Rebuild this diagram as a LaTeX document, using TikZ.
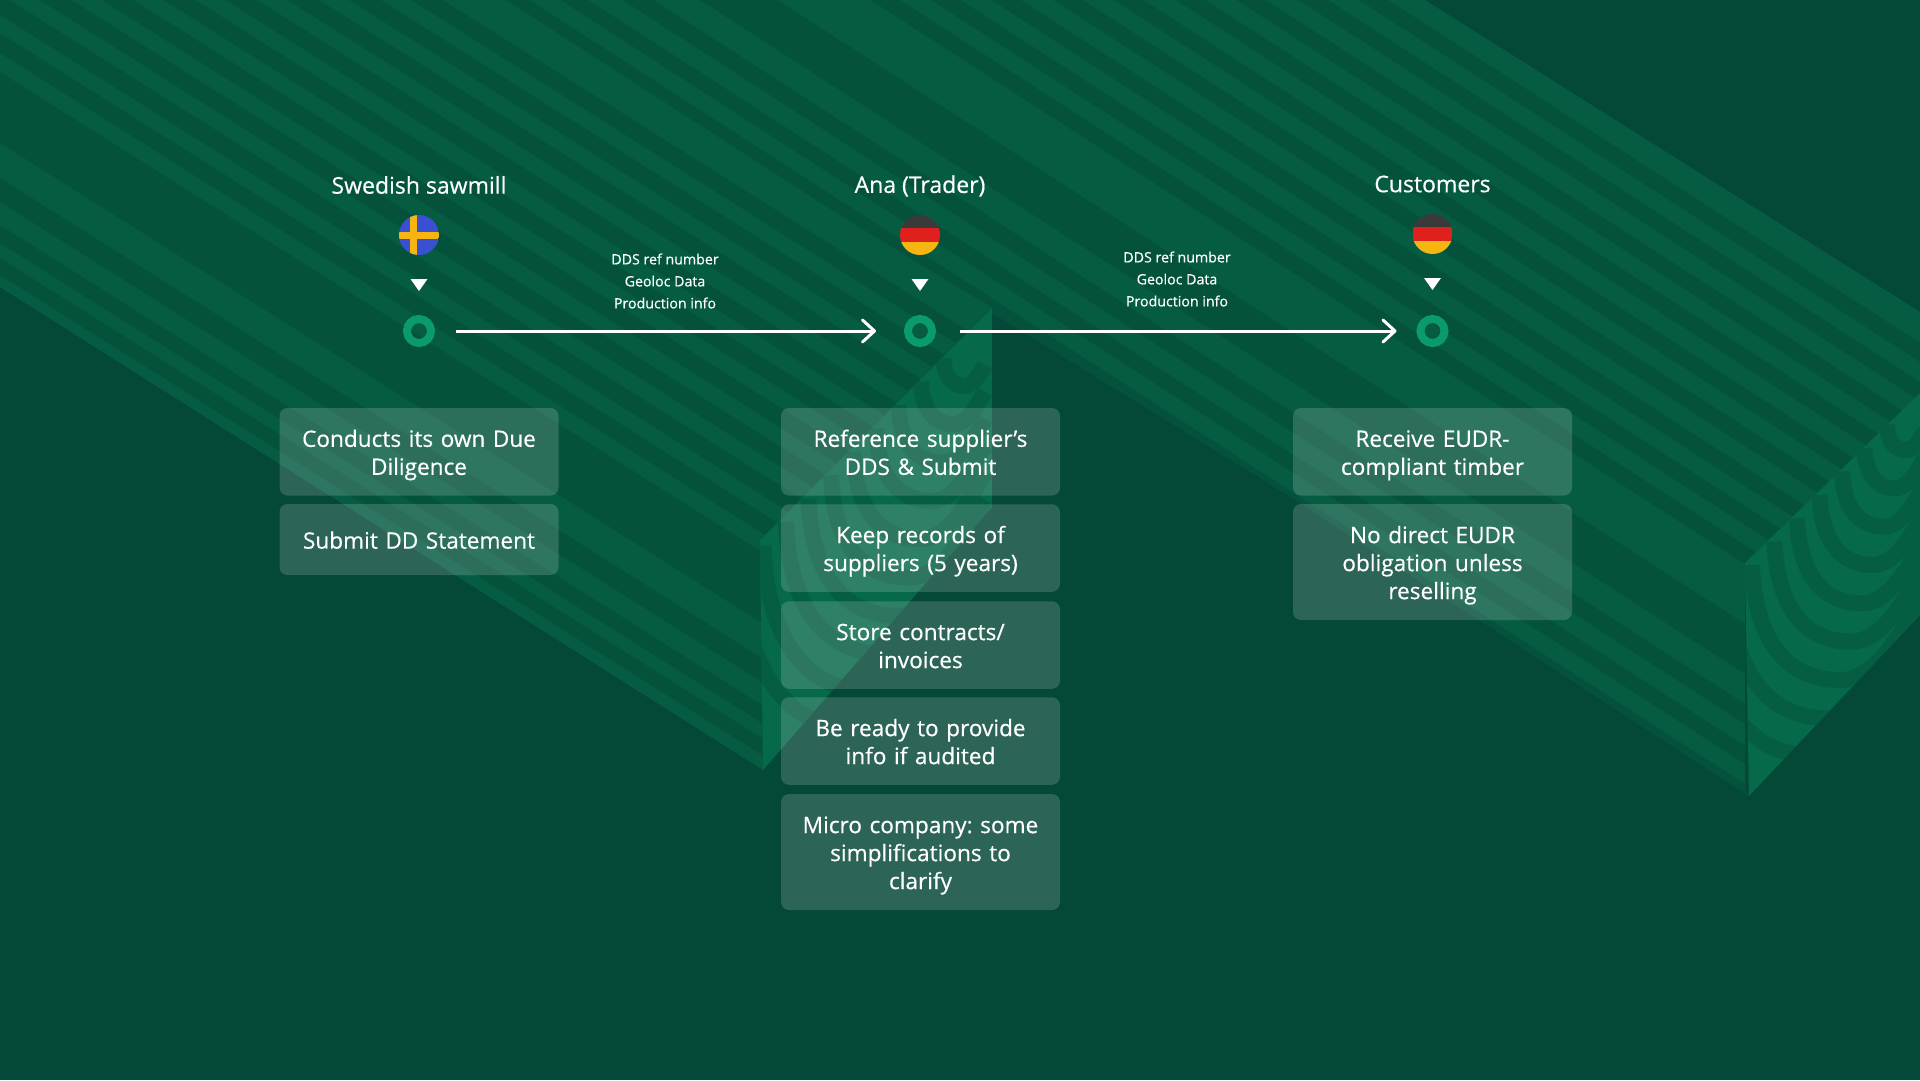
\documentclass[tikz,border=0pt]{standalone}
\usepackage{fontspec}
\setmainfont{Open Sans}[FakeBold=0.45]
\usetikzlibrary{arrows.meta}

\definecolor{bgdark}{HTML}{044838}
\definecolor{bandlight}{HTML}{065C43}
\definecolor{banddark}{HTML}{05523C}
\definecolor{foldlight}{HTML}{066A4A}
\definecolor{folddark}{HTML}{055E42}
\definecolor{ringgreen}{HTML}{0A9A6D}
\definecolor{flagblue}{HTML}{3A50D2}
\definecolor{flagyellow}{HTML}{F7B512}
\definecolor{flagred}{HTML}{E0201C}
\definecolor{flagblack}{HTML}{3A3A3A}

\tikzset{
  titletext/.style={text=white,font=\fontsize{23}{27}\selectfont,inner sep=0},
  infotext/.style={text=white,align=center,font=\fontsize{14.2}{22}\selectfont,inner sep=0},
  taskbox/.style={fill=white,fill opacity=0.16,text opacity=1,text=white,rounded corners=8,
    align=center,inner sep=0,text width=279,font=\fontsize{22.6}{28}\selectfont\frenchspacing,
    execute at begin node={\rule{0pt}{26.6pt}},execute at end node=\strut},
  stepring/.style={circle,draw=ringgreen,line width=8,minimum size=24,inner sep=0,outer sep=4},
  flagdisc/.style={circle,minimum size=40,inner sep=0,outer sep=0},
  marker/.style={fill=white},
  flowarrow/.style={draw=white,line width=3,-{Straight Barb[length=12,width=22,line width=3,round]}},
  foldring/.style={draw=folddark,line width=16}
}

\newcommand{\ringpath}{(-173,180) .. controls (-170,260) and (-135,295) .. (-85,295)
  .. controls (-50,295) and (-25,250) .. (0,208)}

\begin{document}
\begin{tikzpicture}[x=1pt,y=-1pt]

\fill[bgdark] (0,0) rectangle (1920,1080);
\useasboundingbox (0,0) rectangle (1920,1080);

\begin{scope}
\clip (486,0) -- (1425,0) -- (1920,312) -- (1920,393) -- (1745,563) -- (1745,790) -- (1749,796) -- (1280,490) -- (1025,333) -- cycle;
\fill[bandlight] (0,0) rectangle (1920,1080);
\foreach \a/\b in {201/220,240/259,280/299,319/338,359/378,398/417,438/457,477/496,516/535,595/645,675/695,717/735,755/770}
  \fill[banddark] (486,{\a-783}) -- (1920,{\a+141.9}) -- (1920,{\b+141.9}) -- (486,{\b-783}) -- cycle;
\end{scope}

\begin{scope}
\clip (0,0) -- (486,0) -- (992,308) -- (760,540) -- (763,770) -- (0,287) -- cycle;
\fill[bandlight] (0,0) rectangle (1920,1080);
\foreach \a/\b in {-279/-259,-240/-220,-201/-181,-162/-142,-123/-103,-84/-64,-45/-25,-6/15,33/53,72/143,178/202,225/243,258/275}
  \fill[banddark] (0,\a) -- (1920,{\a+1209.6}) -- (1920,{\b+1209.6}) -- (0,\b) -- cycle;
\end{scope}

\begin{scope}
\clip (760,540) -- (992,308) -- (992,507) -- (763,770) -- cycle;
\fill[foldlight] (700,280) rectangle (1000,800);
\foreach \s in {1.41,1.28,1.15,1.02,0.89,0.76,0.63,0.50,0.37,0.24}
  \draw[foldring,shift={(985,315)},scale=\s] \ringpath;
\end{scope}

\begin{scope}
\clip (1745,563) -- (1920,393) -- (1920,615) -- (1749,796) -- cycle;
\fill[foldlight] (1700,380) rectangle (1920,800);
\foreach \s in {1.26,1.13,1,0.87,0.74,0.61,0.48,0.35,0.22}
  \draw[foldring,shift={(1925,385)},scale=\s] \ringpath;
\end{scope}

\node[titletext] (titlemill) at (419,185) {Swedish sawmill};
\node[titletext] (titleana) at (920,186) {Ana (Trader)};
\node[titletext] (titlecust) at (1432.5,184) {Customers};

\node[flagdisc,path picture={
  \fill[flagblue] (-20,-20) rectangle (20,20);
  \fill[flagyellow] (-9,-20) rectangle (-2,20);
  \fill[flagyellow] (-20,-3.5) rectangle (20,4);
}] (flagmill) at (419,235) {};

\node[flagdisc,path picture={
  \fill[flagblack] (-20,-20) rectangle (20,-7);
  \fill[flagred] (-20,-7) rectangle (20,6.5);
  \fill[flagyellow] (-20,6.5) rectangle (20,20);
}] (flagana) at (920,235) {};

\node[flagdisc,path picture={
  \fill[flagblack] (-20,-20) rectangle (20,-7);
  \fill[flagred] (-20,-7) rectangle (20,6.5);
  \fill[flagyellow] (-20,6.5) rectangle (20,20);
}] (flagcust) at (1432.5,234) {};

\fill[marker] (410.5,279) -- (427.5,279) -- (419,291) -- cycle;
\fill[marker] (911.5,279) -- (928.5,279) -- (920,291) -- cycle;
\fill[marker] (1424,278) -- (1441,278) -- (1432.5,290) -- cycle;

\node[stepring] (ringmill) at (419,331) {};
\node[stepring] (ringana) at (920,331) {};
\node[stepring] (ringcust) at (1432.5,331) {};

\draw[flowarrow,shorten <=21,shorten >=28] (ringmill) -- (ringana);
\draw[flowarrow,shorten <=24,shorten >=20] (ringana) -- (ringcust);

\node[infotext] (infoone) at (665,281) {DDS ref number\\Geoloc Data\\Production info};
\node[infotext] (infotwo) at (1177,279) {DDS ref number\\Geoloc Data\\Production info};

\node[taskbox,minimum height=87.5] (milla) at (419,451.75) {Conducts its own Due\\Diligence};
\node[taskbox,minimum height=71] (millb) at (419,539.5) {Submit DD Statement};

\node[taskbox,minimum height=87.5] (anaa) at (920.5,451.75) {Reference supplier’s\\DDS \& Submit};
\node[taskbox,minimum height=87.5] (anab) at (920.5,548) {Keep records of\\suppliers (5 years)};
\node[taskbox,minimum height=87.5] (anac) at (920.5,645) {Store contracts/\\invoices};
\node[taskbox,minimum height=87.5] (anad) at (920.5,741) {Be ready to provide\\info if audited};
\node[taskbox,minimum height=116] (anae) at (920.5,852) {Micro company: some\\simplifications to\\clarify};

\node[taskbox,minimum height=87.5] (custa) at (1432.5,451.75) {Receive EUDR-\\compliant timber};
\node[taskbox,minimum height=116] (custb) at (1432.5,562) {No direct EUDR\\obligation unless\\reselling};

\end{tikzpicture}
\end{document}
